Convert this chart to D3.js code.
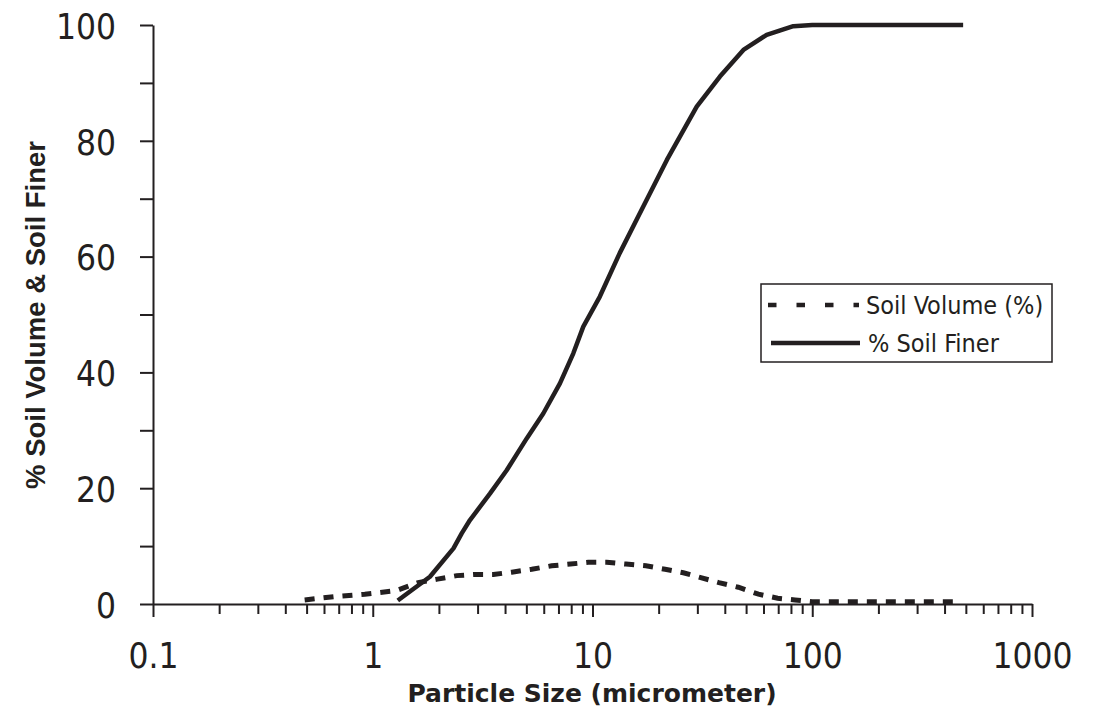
<!DOCTYPE html>
<html>
<head>
<meta charset="utf-8">
<script src="https://cdn.jsdelivr.net/npm/d3@7"></script>
<style>
  html, body { margin: 0; padding: 0; background: #ffffff; }
  svg { display: block; }
  .tick-label { font-family: "DejaVu Sans Condensed", "DejaVu Sans", sans-serif; font-stretch: condensed; font-size: 35px; fill: #231f20; }
  .legend-text { font-family: "DejaVu Sans Condensed", "DejaVu Sans", sans-serif; font-stretch: condensed; font-size: 25px; fill: #231f20; }
  .x-title { font-family: "DejaVu Sans", sans-serif; font-weight: bold; font-size: 25px; fill: #231f20; }
  .y-title { font-family: "Liberation Sans", Arial, sans-serif; font-weight: bold; font-size: 27.5px; fill: #231f20; }
</style>
</head>
<body>
<svg id="chart" width="1097" height="714"></svg>
<script>
// ---- data ----
const xMajorTicks = [0.1, 1, 10, 100, 1000];
const xTickLabels = ["0.1", "1", "10", "100", "1000"];
const yMajorTicks = [0, 20, 40, 60, 80, 100];
const yTickLabels = ["0", "20", "40", "60", "80", "100"];
const yMinorTicks = [10, 30, 50, 70, 90];

const finerSize = [1.3, 1.82, 2.33, 2.54, 2.77, 3.42, 4.07, 5.02, 5.97, 7.11, 8.18, 9.08, 10.8, 13.3, 17.0, 21.8, 29.8, 38.0, 48.6, 62.0, 82.0, 100, 486];
const finerPct  = [0.6, 4.7, 9.6, 12.2, 14.5, 19.1, 23.1, 28.6, 32.9, 38.1, 43.3, 47.9, 53.1, 60.6, 68.6, 76.7, 85.9, 91.1, 95.7, 98.3, 99.8, 100, 100];

const volumeSize = [0.49, 0.68, 0.92, 1.28, 1.61, 1.97, 2.41, 2.92, 3.54, 4.29, 5.29, 6.52, 7.94, 9.56, 11.6, 14.2, 17.5, 21.4, 25.9, 30.8, 37.6, 46.1, 56.9, 69.6, 83.5, 100, 440];
const volumePct  = [0.7, 1.3, 1.7, 2.3, 3.7, 4.3, 4.9, 5.1, 5.1, 5.5, 6.0, 6.6, 6.9, 7.2, 7.2, 6.9, 6.6, 6.0, 5.4, 4.6, 3.7, 2.9, 1.7, 1.0, 0.7, 0.4, 0.4];

const seriesNames = ["Soil Volume (%)", "% Soil Finer"];
const xTitle = "Particle Size (micrometer)";
const yTitle = "% Soil Volume & Soil Finer";

// ---- layout ----
const ink = "#231f20";
const svg = d3.select("#chart");
const x = d3.scaleLog().domain([0.1, 1000]).range([153, 1032]);
const y = d3.scaleLinear().domain([0, 100]).range([604, 25]);

// minor x ticks: 2..9 in every decade
const xMinorTicks = [];
for (let d = 0; d < 4; d++) {
  for (let k = 2; k <= 9; k++) xMinorTicks.push(+(k * Math.pow(10, d - 1)).toPrecision(3));
}

function styleAxis(g) {
  g.selectAll("path.domain").attr("stroke", ink).attr("stroke-width", 2);
  g.selectAll(".tick line").attr("stroke", ink).attr("stroke-width", 2);
}

// x minor ticks
svg.append("g")
  .attr("transform", `translate(0,${y(0)})`)
  .call(d3.axisBottom(x).tickValues(xMinorTicks).tickSize(10).tickSizeOuter(0).tickFormat(""))
  .call(styleAxis)
  .call(g => g.select("path.domain").remove());

// x major ticks + labels
svg.append("g")
  .attr("transform", `translate(0,${y(0)})`)
  .call(d3.axisBottom(x).tickValues(xMajorTicks).tickSize(13).tickSizeOuter(0)
        .tickPadding(0).tickFormat((d, i) => xTickLabels[i]))
  .call(styleAxis)
  .call(g => g.selectAll(".tick text")
      .attr("class", "tick-label")
      .attr("font-family", null).attr("font-size", null)
      .attr("fill", ink)
      .attr("y", 64).attr("dy", null));

// y minor ticks
svg.append("g")
  .attr("transform", `translate(${x(0.1)},0)`)
  .call(d3.axisLeft(y).tickValues(yMinorTicks).tickSize(13).tickSizeOuter(0).tickFormat(""))
  .call(styleAxis)
  .call(g => g.select("path.domain").remove());

// y major ticks + labels
svg.append("g")
  .attr("transform", `translate(${x(0.1)},0)`)
  .call(d3.axisLeft(y).tickValues(yMajorTicks).tickSize(13).tickSizeOuter(0)
        .tickPadding(24).tickFormat((d, i) => yTickLabels[i]))
  .call(styleAxis)
  .call(g => g.selectAll(".tick text")
      .attr("class", "tick-label")
      .attr("font-family", null).attr("font-size", null)
      .attr("fill", ink)
      .attr("dy", "0.38em"));

// ---- lines ----
const volumeData = volumeSize.map((s, i) => [s, volumePct[i]]);
const finerData = finerSize.map((s, i) => [s, finerPct[i]]);
const line = d3.line().x(d => x(d[0])).y(d => y(d[1]));

svg.append("path")
  .datum(volumeData)
  .attr("d", line)
  .attr("fill", "none")
  .attr("stroke", ink)
  .attr("stroke-width", 5)
  .attr("stroke-dasharray", "10,9");

svg.append("path")
  .datum(finerData)
  .attr("d", line)
  .attr("fill", "none")
  .attr("stroke", ink)
  .attr("stroke-width", 4.5)
  .attr("stroke-linejoin", "round");

// ---- axis titles ----
svg.append("text")
  .attr("class", "x-title")
  .attr("x", 592).attr("y", 702)
  .attr("text-anchor", "middle")
  .text(xTitle);

svg.append("text")
  .attr("class", "y-title")
  .attr("transform", "translate(45,315) rotate(-90)")
  .attr("text-anchor", "middle")
  .text(yTitle);

// ---- legend ----
const lg = svg.append("g");
lg.append("rect")
  .attr("x", 761).attr("y", 284).attr("width", 291).attr("height", 78)
  .attr("fill", "#ffffff").attr("stroke", ink).attr("stroke-width", 1.5);
lg.append("line")
  .attr("x1", 768).attr("x2", 859).attr("y1", 305).attr("y2", 305)
  .attr("stroke", ink).attr("stroke-width", 4.5).attr("stroke-dasharray", "8.5,20");
lg.append("text").attr("class", "legend-text")
  .attr("x", 866).attr("y", 314).text(seriesNames[0]);
lg.append("line")
  .attr("x1", 771).attr("x2", 860).attr("y1", 343).attr("y2", 343)
  .attr("stroke", ink).attr("stroke-width", 4.5);
lg.append("text").attr("class", "legend-text")
  .attr("x", 868).attr("y", 352).text(seriesNames[1]);
</script>
</body>
</html>
